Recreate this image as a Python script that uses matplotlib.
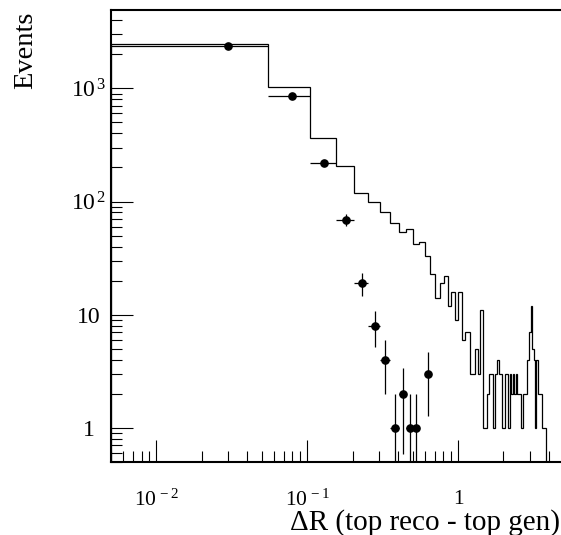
import numpy as np
import matplotlib
matplotlib.use("Agg")
import matplotlib.pyplot as plt
from matplotlib.ticker import LogLocator, FuncFormatter, NullFormatter

# binning of the histogram (width 0.05 starting at 0.005)
x_lo = 0.005
bin_width = 0.05

# reco histogram (line)
hist_counts = [2455, 1020, 366, 206, 118, 100, 80, 64, 54, 57,
               42, 44, 33, 23, 14, 19, 22, 12, 16, 9,
               16, 6, 7, 7, 3, 3, 5, 3, 11, 1,
               1, 2, 3, 3, 1, 3, 4, 3, 3, 1,
               1, 3, 3, 1, 3, 2, 3, 2, 3, 2,
               2, 2, 1, 1, 2, 2, 2, 4, 4, 7,
               7, 12, 5, 5, 4, 1, 4, 4, 2, 2,
               2, 2, 1, 1, 1, 1]

# points with errors
data_counts = [2385, 862, 220, 69, 19, 8, 4, 1, 2, 1, 1, 0, 3]

x_title = "\u0394R (top reco - top gen)"
y_title = "Events"

plt.rcParams['font.family'] = ['Liberation Serif', 'DejaVu Serif']
plt.rcParams['mathtext.fontset'] = 'custom'
plt.rcParams['mathtext.rm'] = 'Liberation Serif'
plt.rcParams['mathtext.it'] = 'Liberation Serif:italic'
plt.rcParams['mathtext.bf'] = 'Liberation Serif:bold'

fig = plt.figure(figsize=(5.61, 5.35), dpi=100)
W, H = 561.0, 535.0
ax = fig.add_axes([110.7 / W, 1 - 462 / H, (563.6 - 110.7) / W, (462 - 10) / H])

edges = x_lo + bin_width * np.arange(len(hist_counts) + 1)
ax.stairs(hist_counts, edges, baseline=1e-3, color='black', lw=0.9)

d = np.array(data_counts, dtype=float)
xc = x_lo + bin_width * (np.arange(len(d)) + 0.5)
ok = d > 0
err = np.sqrt(d[ok])
lo = np.minimum(err, d[ok] - 1e-3)
ax.errorbar(xc[ok], d[ok], xerr=bin_width / 2, yerr=[lo, err], fmt='o',
            color='black', ms=5.2, lw=0.9, capsize=0)

ax.set_xscale('log')
ax.set_yscale('log')
ax.set_xlim(0.005, 5.005)
ax.set_ylim(0.5, 4920)


def fmt(v, pos):
    e = int(round(np.log10(v)))
    if e == 0:
        return '1'
    if e == 1:
        return '10'
    return r'$10^{\,%d}$' % e


for a in (ax.xaxis, ax.yaxis):
    a.set_major_locator(LogLocator(base=10))
    a.set_minor_locator(LogLocator(base=10, subs=np.arange(2, 10)))
    a.set_major_formatter(FuncFormatter(fmt))
    a.set_minor_formatter(NullFormatter())

ax.tick_params(which='both', direction='in', top=False, right=False, width=0.8)
ax.tick_params(which='major', length=16)
ax.tick_params(which='minor', length=8)
ax.tick_params(axis='x', labelsize=15.5, pad=20)
ax.tick_params(axis='y', labelsize=17, pad=16)
for s in ax.spines.values():
    s.set_linewidth(1.5)

# ROOT puts the y labels roughly centred under each other
fig.canvas.draw()
for lab in ax.get_yticklabels():
    lab.set_horizontalalignment('center')

ax.set_xlabel(x_title, fontsize=21, ha='right')
ax.xaxis.set_label_coords((560 - 110.7) / 452.9, -0.105)
ax.set_ylabel(y_title, fontsize=20.5, ha='right')
ax.yaxis.set_label_coords(-0.16, 0.997)

fig.savefig('out.png', dpi=100)
